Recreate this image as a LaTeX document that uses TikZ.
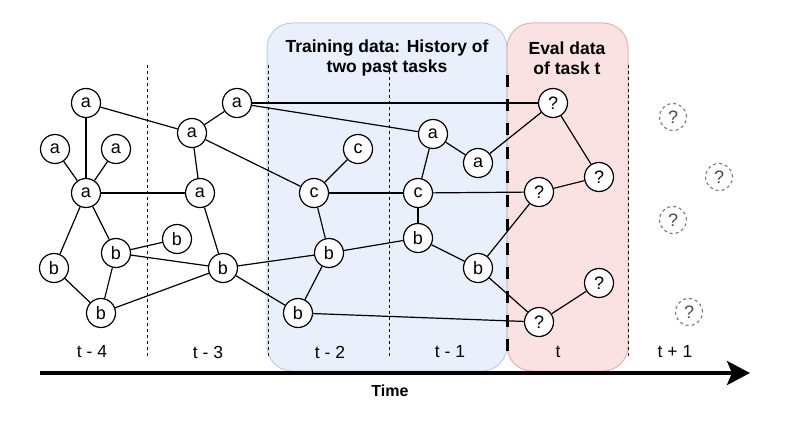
\documentclass[tikz,border=0pt]{standalone}
\usepackage{fontspec}
\setmainfont{Liberation Sans}
\usetikzlibrary{arrows.meta}

\definecolor{trainfill}{RGB}{233,240,251}
\definecolor{traindraw}{RGB}{190,206,232}
\definecolor{evalfill}{RGB}{251,226,226}
\definecolor{evaldraw}{RGB}{228,178,176}

\begin{document}
\begin{tikzpicture}[x=1pt,y=-1pt,
	vert/.style={circle,draw,line width=1.2pt,fill=white,minimum size=29pt,inner sep=0pt,font=\fontsize{18}{20}\selectfont},
	ghost/.style={circle,draw=gray,dashed,line width=1.2pt,text=black!70,minimum size=27pt,inner sep=0pt,font=\fontsize{18}{20}\selectfont},
	edge/.style={line width=1.2pt},
	sep/.style={dashed,line width=0.8pt},
	lbl/.style={font=\fontsize{17.5}{20}\selectfont}]
	
	\useasboundingbox (0,0) rectangle (790,422);
	
	% boxes
	\draw[fill=trainfill,draw=traindraw,line width=1pt,rounded corners=25pt] (267,23) rectangle (507,371);
	\draw[fill=evalfill,draw=evaldraw,line width=1pt,rounded corners=25pt] (507,23) rectangle (628,371);
	\node[font=\bfseries\fontsize{17.5}{20}\selectfont,align=center] (train) at (387,58) {Training data: History of\\two past tasks};
	\node[font=\bfseries\fontsize{17.5}{20}\selectfont,align=center] (eval) at (567,58) {Eval data\\of task t};
	
	% time slots
	\foreach \x in {147,268,389,628}
		\draw[sep] (\x,65) -- (\x,357);
	\draw[line width=3pt,dash pattern=on 12pt off 12pt] (507,75) -- (507,358);
	
	\node[lbl] (l4) at (92,352) {t - 4};
	\node[lbl] (l3) at (208,352) {t - 3};
	\node[lbl] (l2) at (330,352) {t - 2};
	\node[lbl] (l1) at (450,352) {t - 1};
	\node[lbl] (l0) at (558,352) {t};
	\node[lbl] (lp) at (675,352) {t + 1};
	
	% t-4
	\node[vert] (A1) at (86,103) {a};
	\node[vert] (A2) at (55,149) {a};
	\node[vert] (A3) at (116,149) {a};
	\node[vert] (A4) at (86,193) {a};
	\node[vert] (B1) at (54,268) {b};
	\node[vert] (B2) at (116,253) {b};
	\node[vert] (B3) at (177,239) {b};
	\node[vert] (B4) at (101,313) {b};
	% t-3
	\node[vert] (A5) at (237,103) {a};
	\node[vert] (A6) at (192,133) {a};
	\node[vert] (A7) at (200,193) {a};
	\node[vert] (B5) at (223,268) {b};
	% t-2
	\node[vert] (C1) at (314,193) {c};
	\node[vert] (C2) at (358,149) {c};
	\node[vert] (B6) at (329,253) {b};
	\node[vert] (B7) at (298,313) {b};
	% t-1
	\node[vert] (A8) at (433,134) {a};
	\node[vert] (A9) at (478,163) {a};
	\node[vert] (C3) at (418,193) {c};
	\node[vert] (B8) at (418,238) {b};
	\node[vert] (B9) at (478,268) {b};
	% t
	\node[vert] (Q1) at (553,103) {?};
	\node[vert] (Q2) at (599,177) {?};
	\node[vert] (Q3) at (539,192) {?};
	\node[vert] (Q4) at (599,283) {?};
	\node[vert] (Q5) at (539,322) {?};
	% t+1
	\node[ghost] (G1) at (673,117) {?};
	\node[ghost] (G2) at (719,177) {?};
	\node[ghost] (G3) at (673,220) {?};
	\node[ghost] (G4) at (689,312) {?};
	
	\draw[edge] (A1) -- (A4);
	\draw[edge] (A2) -- (A4);
	\draw[edge] (A3) -- (A4);
	\draw[edge] (A4) -- (B1);
	\draw[edge] (A4) -- (B2);
	\draw[edge] (B1) -- (B4);
	\draw[edge] (B2) -- (B4);
	\draw[edge] (B2) -- (B3);
	\draw[edge] (A4) -- (A7);
	\draw[edge] (A1) -- (A6);
	\draw[edge] (B2) -- (B5);
	\draw[edge] (B4) -- (B5);
	\draw[edge] (A5) -- (A6);
	\draw[edge] (A6) -- (A7);
	\draw[edge] (A7) -- (B5);
	\draw[edge] (A5) -- (Q1);
	\draw[edge] (A5) -- (A8);
	\draw[edge] (A6) -- (C1);
	\draw[edge] (B5) -- (B6);
	\draw[edge] (B5) -- (B7);
	\draw[edge] (C1) -- (C2);
	\draw[edge] (C1) -- (B6);
	\draw[edge] (B6) -- (B7);
	\draw[edge] (C1) -- (C3);
	\draw[edge] (B6) -- (B8);
	\draw[edge] (B7) -- (Q5);
	\draw[edge] (A8) -- (A9);
	\draw[edge] (A8) -- (C3);
	\draw[edge] (C3) -- (B8);
	\draw[edge] (B8) -- (B9);
	\draw[edge] (C3) -- (Q3);
	\draw[edge] (A9) -- (Q1);
	\draw[edge] (B9) -- (Q3);
	\draw[edge] (B9) -- (Q5);
	\draw[edge] (Q1) -- (Q2);
	\draw[edge] (Q3) -- (Q2);
	\draw[edge] (Q5) -- (Q4);
	
	% time axis
	\coordinate (T0) at (40,373);
	\coordinate (T1) at (750,373);
	\draw[line width=3.5pt,-{Stealth[length=23pt,width=24pt,inset=5pt]}] (T0) -- (T1);
	\node[font=\bfseries\fontsize{16}{18}\selectfont] (time) at (390,391) {Time};
\end{tikzpicture}
\end{document}
